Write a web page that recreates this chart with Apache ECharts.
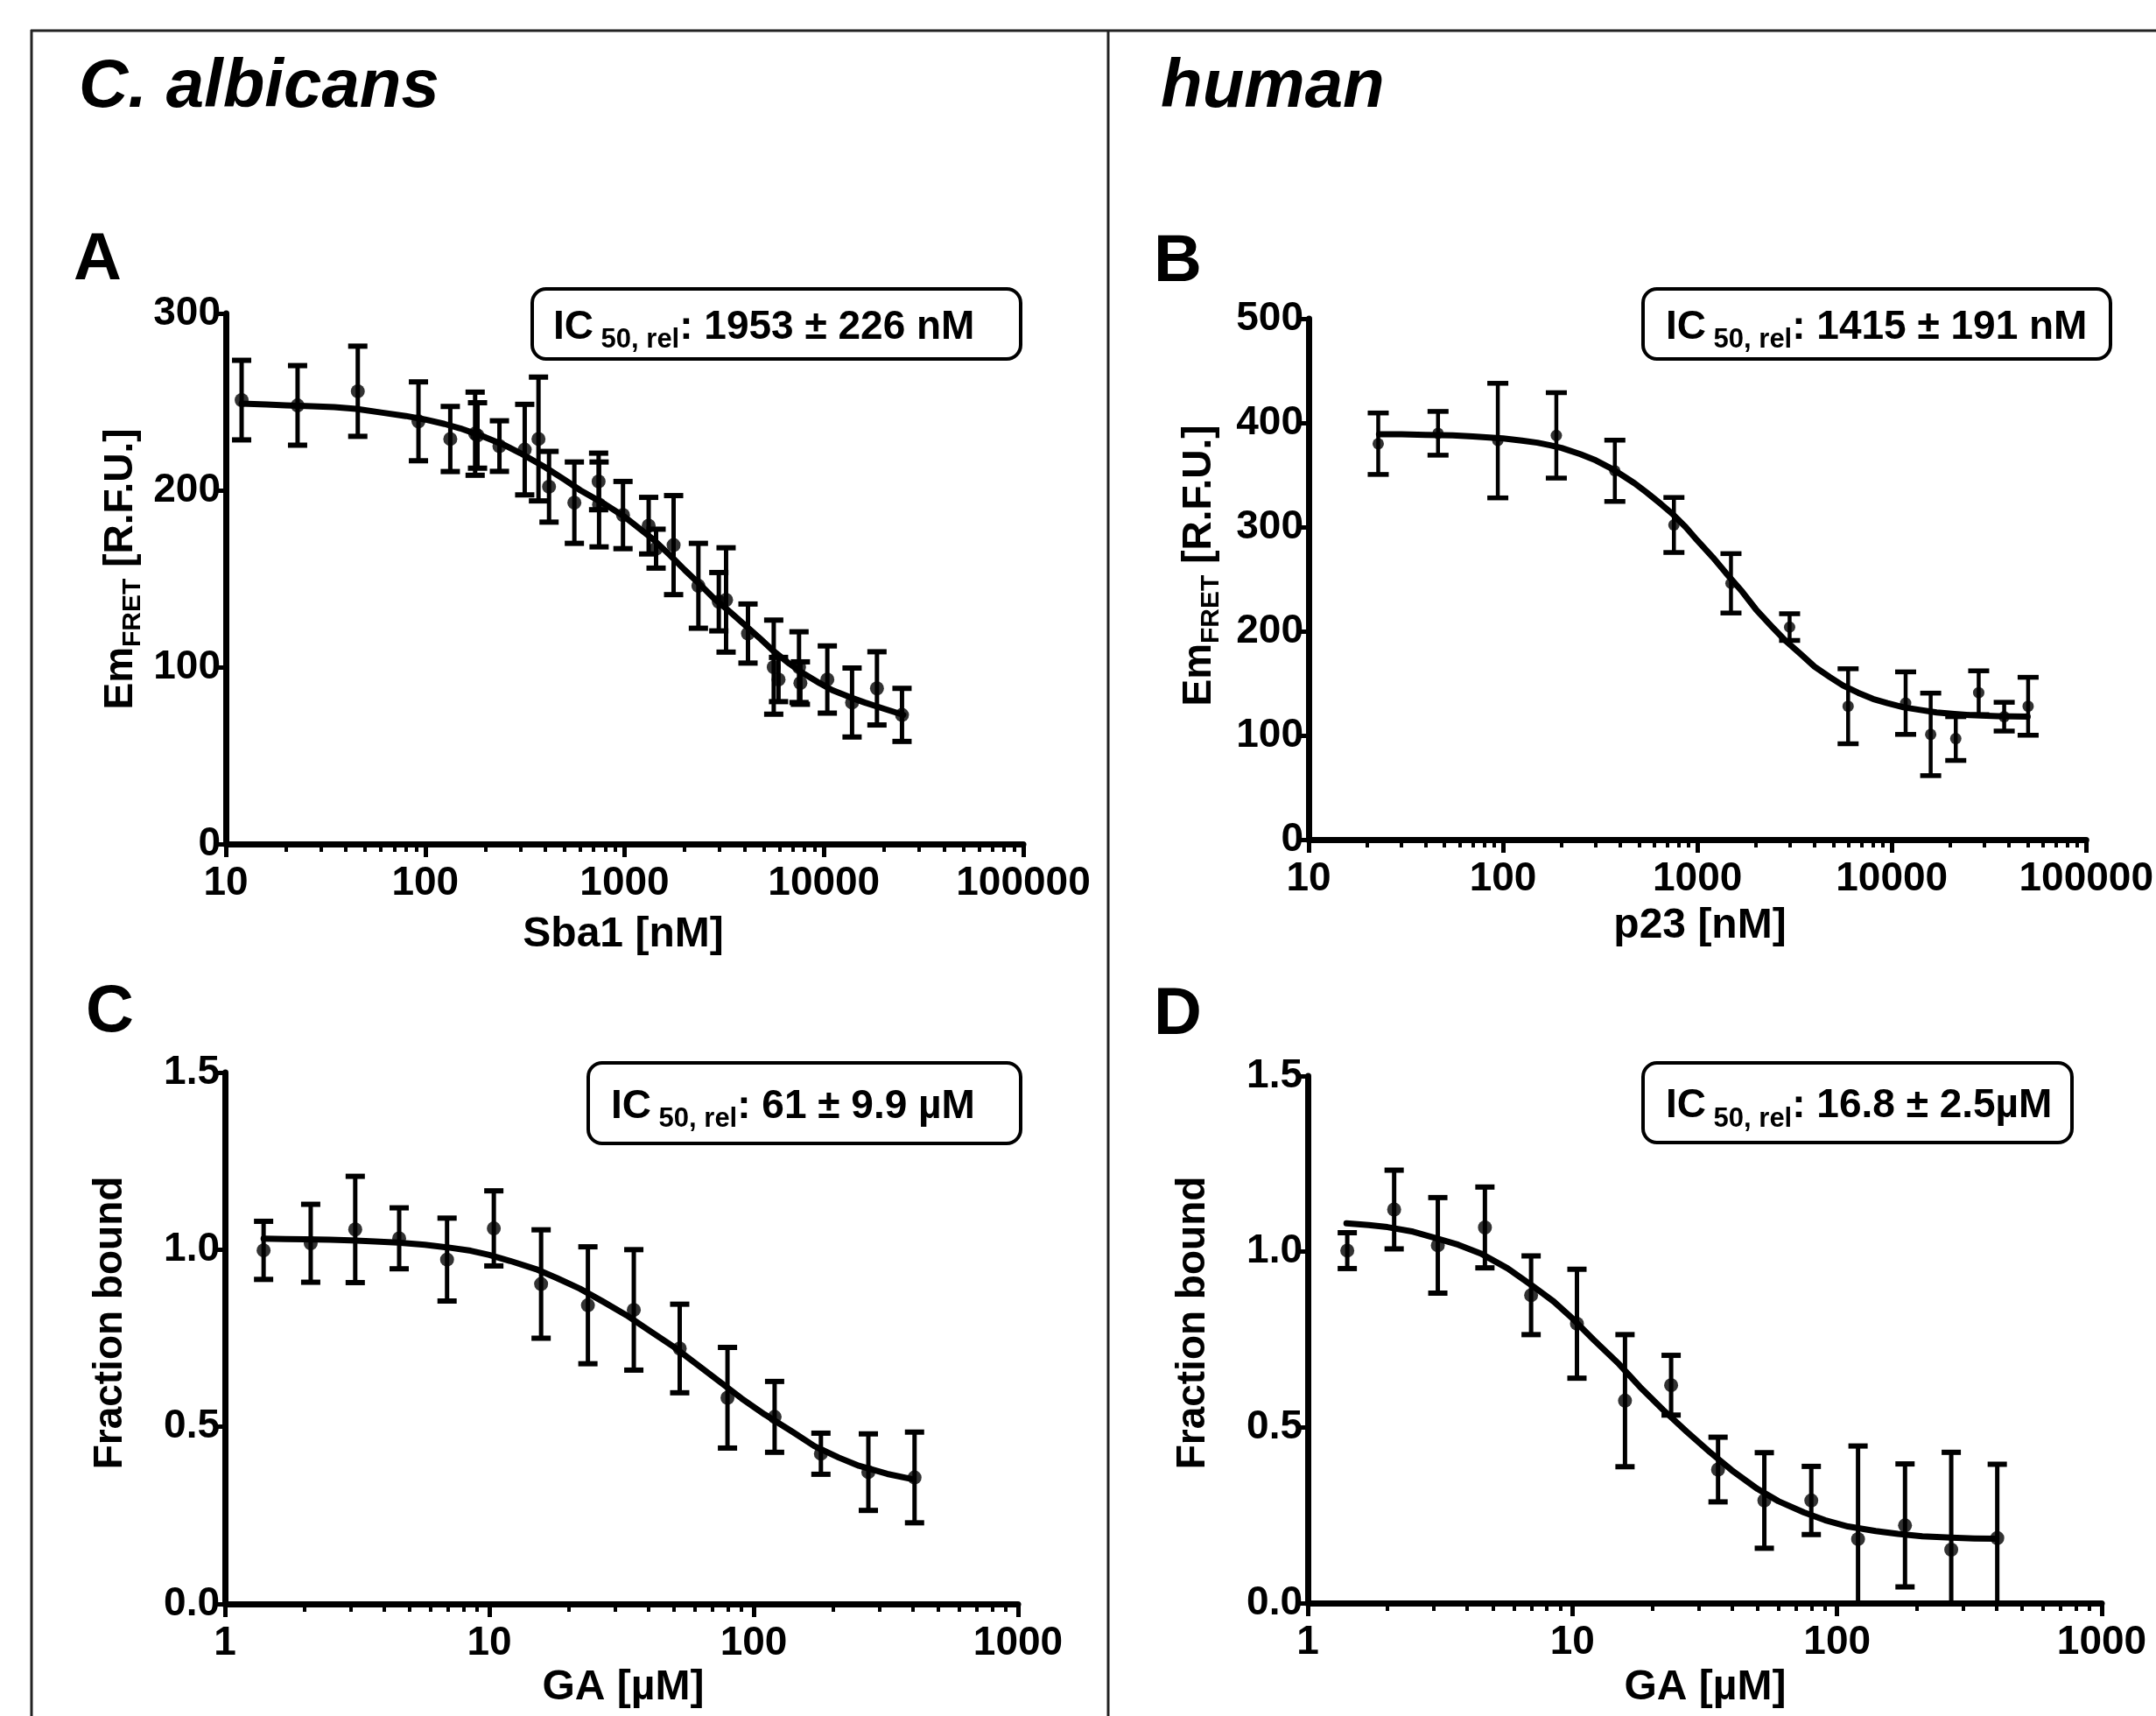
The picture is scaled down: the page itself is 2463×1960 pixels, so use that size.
<!DOCTYPE html>
<html>
<head>
<meta charset="utf-8">
<script src="https://cdn.jsdelivr.net/npm/echarts@6/dist/echarts.min.js"></script>
<style>
html,body{margin:0;padding:0;background:#fff;}
#chart{width:2463px;height:1960px;}
</style>
</head>
<body>
<div id="chart"></div>
<script>
// ---------------- DATA ----------------
// Panel A: C. albicans, Sba1 titration
const A_conc = [12.0, 22.9, 45.9, 92.5, 133.6, 178, 183, 235.7, 315.6, 370, 418, 560, 741, 745, 982, 1321, 1439, 1762, 2346, 2970, 3230, 4160, 5600, 5920, 7500, 7620, 10400, 13840, 18450, 24640];
const A_em   = [251, 248, 256, 239, 229, 232, 231, 225, 223, 229, 202, 193, 205, 192, 186, 180, 167, 169, 146, 137, 138, 119, 100, 93, 100, 91, 93, 80, 88, 73];
const A_sd   = [22.5, 22.5, 25.5, 22.3, 18.4, 23.5, 18.5, 14.3, 25.6, 35, 20, 23, 16, 24, 19, 16, 11, 28, 24, 16.5, 29.5, 16.7, 26.6, 12.5, 20, 12, 19, 19.5, 20.7, 15];
const A_fitX = [12, 16, 20, 27, 35, 45, 60, 80, 100, 125, 150, 200, 250, 300, 400, 500, 600, 800, 1000, 1200, 1400, 1700, 2000, 2400, 2800, 3400, 4000, 4800, 5600, 6700, 8000, 9500, 11000, 13500, 16000, 20000, 25000];
const A_fitY = [249, 248.5, 248, 247.5, 247, 246, 244, 242, 240, 237.5, 235, 230, 225.5, 221, 213, 206, 200, 192, 185, 178, 172, 163, 155, 146.5, 139, 131, 124, 116, 109, 102, 96, 91, 87, 83, 80, 76.5, 73];

// Panel B: human, p23 titration
const B_conc = [22.8, 46.3, 94, 188, 376, 757, 1488, 2980, 5960, 11780, 15850, 21330, 27990, 37860, 50270];
const B_em   = [380, 390, 383, 388, 354, 302, 246, 204, 128, 131, 101, 97, 141, 118, 128];
const B_sd   = [29.5, 21, 55, 41, 29.4, 26.4, 28.5, 12.8, 36, 30, 39.6, 21, 21, 13.8, 27.8];
const B_fitX = [23, 30, 40, 55, 70, 85, 100, 125, 150, 175, 200, 250, 300, 350, 400, 475, 550, 650, 750, 870, 1000, 1200, 1400, 1700, 2000, 2400, 2800, 3400, 4000, 4800, 5600, 6700, 8000, 9500, 11500, 14000, 17000, 21000, 25000, 35000, 50000];
const B_fitY = [389, 389, 388.5, 388, 387, 386, 385, 383, 381, 378.5, 376, 370, 364, 357.5, 351, 342, 333, 322, 312, 300, 287, 271, 256, 238, 221, 205, 192, 178, 166, 156, 148, 141, 135, 131, 127, 124.5, 122, 120.5, 119.5, 118.5, 118];

// Panel C: C. albicans, GA titration
const C_conc = [1.40, 2.11, 3.11, 4.56, 6.92, 10.4, 15.7, 23.6, 35.2, 52.5, 79.6, 120, 179.6, 271.5, 406];
const C_frac = [0.998, 1.018, 1.057, 1.032, 0.972, 1.060, 0.903, 0.843, 0.830, 0.721, 0.582, 0.528, 0.424, 0.372, 0.357];
const C_sd   = [0.082, 0.11, 0.15, 0.086, 0.117, 0.106, 0.153, 0.165, 0.17, 0.125, 0.142, 0.10, 0.058, 0.108, 0.128];
const C_fitX = [1.4, 1.7, 2, 2.5, 3, 3.7, 4.5, 5.7, 7, 8.5, 10, 12, 15, 18, 22, 27, 33, 40, 50, 60, 75, 90, 110, 140, 170, 210, 250, 320, 400];
const C_fitY = [1.031, 1.030, 1.029, 1.028, 1.026, 1.023, 1.02, 1.014, 1.006, 0.997, 0.985, 0.968, 0.945, 0.92, 0.89, 0.853, 0.815, 0.773, 0.725, 0.68, 0.625, 0.58, 0.535, 0.486, 0.445, 0.413, 0.39, 0.367, 0.352];

// Panel D: human, GA titration
const D_conc = [1.41, 2.12, 3.10, 4.67, 6.98, 10.4, 15.8, 23.6, 35.5, 53.1, 79.9, 120, 180.6, 270, 403];
const D_frac = [1.003, 1.120, 1.018, 1.069, 0.876, 0.795, 0.576, 0.620, 0.380, 0.292, 0.292, 0.182, 0.221, 0.152, 0.185];
const D_sd   = [0.051, 0.112, 0.136, 0.115, 0.112, 0.155, 0.188, 0.085, 0.092, 0.136, 0.097, 0.265, 0.175, 0.277, 0.21];
const D_fitX = [1.4, 1.7, 2, 2.5, 3, 3.7, 4.5, 5.7, 7, 8.5, 10, 12, 15, 18, 22, 27, 33, 40, 50, 60, 75, 90, 110, 140, 170, 210, 270, 330, 400];
const D_fitY = [1.081, 1.076, 1.07, 1.057, 1.04, 1.02, 0.995, 0.952, 0.905, 0.858, 0.81, 0.75, 0.68, 0.615, 0.55, 0.488, 0.43, 0.378, 0.325, 0.29, 0.258, 0.236, 0.218, 0.205, 0.197, 0.19, 0.186, 0.184, 0.183];

// Tick labels
const nM_ticks = [10, 100, 1000, 10000, 100000];
const uM_ticks = [1, 10, 100, 1000];
const rfuA_ticks = [0, 100, 200, 300];
const rfuB_ticks = [0, 100, 200, 300, 400, 500];
const frac_ticks = [0.0, 0.5, 1.0, 1.5];

// Texts
const titleLeft = 'C. albicans';
const titleRight = 'human';
const panelLetters = ['A', 'B', 'C', 'D'];
const ic50Values = ['1953 ± 226 nM', '1415 ± 191 nM', '61 ± 9.9 µM', '16.8 ± 2.5µM'];

// ---------------- CHART ----------------
const FF = '"Liberation Sans", Arial, Helvetica, sans-serif';
const chart = echarts.init(document.getElementById('chart'), null, {renderer: 'canvas'});

function minorTicks(lo, hi) {
  const out = [];
  for (let d = lo; d < hi; d *= 10) for (let k = 2; k <= 9; k++) out.push(d * k);
  return out;
}

const grids = [
  {left: 258, top: 358, width: 911, height: 606},
  {left: 1495, top: 364, width: 895, height: 595},
  {left: 257, top: 1225, width: 906, height: 607},
  {left: 1494, top: 1229, width: 907, height: 602}
];

const AXW = 7;
function xAxesFor(gi, ticks) {
  const min = ticks[0], max = ticks[ticks.length - 1];
  return [
    {type: 'log', logBase: 10, gridIndex: gi, min: min, max: max, position: 'bottom',
      axisLine: {show: true, onZero: false, lineStyle: {color: '#000', width: AXW}},
      axisTick: {show: true, inside: false, length: 15, lineStyle: {color: '#000', width: 5}, customValues: ticks},
      axisLabel: {show: true, customValues: ticks, formatter: v => String(Math.round(v)), margin: 22,
        color: '#000', fontSize: 46, fontWeight: 'bold', fontFamily: FF},
      splitLine: {show: false}, minorTick: {show: false}, minorSplitLine: {show: false}},
    {type: 'log', logBase: 10, gridIndex: gi, min: min, max: max, position: 'bottom',
      axisLine: {show: false},
      axisTick: {show: true, inside: false, length: 9, lineStyle: {color: '#000', width: 4}, customValues: minorTicks(min, max)},
      axisLabel: {show: false}, splitLine: {show: false}}
  ];
}

function yAxisFor(gi, ticks, dec) {
  return {type: 'value', gridIndex: gi, min: ticks[0], max: ticks[ticks.length - 1], interval: ticks[1] - ticks[0],
    axisLine: {show: true, onZero: false, lineStyle: {color: '#000', width: AXW}},
    axisTick: {show: true, inside: false, length: 11, lineStyle: {color: '#000', width: 5}},
    axisLabel: {show: true, margin: 6, color: '#000', fontSize: 46, fontWeight: 'bold', fontFamily: FF,
      formatter: v => dec ? v.toFixed(1) : String(v)},
    splitLine: {show: false}};
}

function errRender(capHalf, lw) {
  return function (params, api) {
    const x = api.value(0), y = api.value(1), e = api.value(2);
    const p1 = api.coord([x, y + e]);
    const p2 = api.coord([x, y - e]);
    const st = {stroke: '#000', lineWidth: lw};
    return {type: 'group', children: [
      {type: 'line', shape: {x1: p1[0], y1: p1[1], x2: p2[0], y2: p2[1]}, style: st},
      {type: 'line', shape: {x1: p1[0] - capHalf, y1: p1[1], x2: p1[0] + capHalf, y2: p1[1]}, style: {stroke: '#000', lineWidth: lw + 1}},
      {type: 'line', shape: {x1: p2[0] - capHalf, y1: p2[1], x2: p2[0] + capHalf, y2: p2[1]}, style: {stroke: '#000', lineWidth: lw + 1}}
    ]};
  };
}

function seriesFor(gi, xs, ys, sd, fx, fy, dot, cap, lw) {
  const xi = gi * 2;
  return [
    {type: 'custom', name: 'sd' + gi, xAxisIndex: xi, yAxisIndex: gi, clip: true,
      renderItem: errRender(cap, lw), data: xs.map((x, i) => [x, ys[i], sd[i]]), z: 3, silent: true},
    {type: 'line', name: 'fit' + gi, xAxisIndex: xi, yAxisIndex: gi, data: fx.map((x, i) => [x, fy[i]]),
      smooth: false, showSymbol: false, symbol: 'none',
      lineStyle: {color: '#000', width: 7, join: 'round', cap: 'round'}, z: 4, silent: true},
    {type: 'scatter', name: 'pts' + gi, xAxisIndex: xi, yAxisIndex: gi, data: xs.map((x, i) => [x, ys[i]]),
      symbol: 'circle', symbolSize: dot, itemStyle: {color: '#000'}, z: 5, silent: true}
  ];
}

// graphic texts
function txt(x, y, text, size, opts) {
  return Object.assign({type: 'text', x: x, y: y, z: 20, silent: true,
    style: {text: text, fontSize: size, fontWeight: 'bold', fontFamily: FF, fill: '#000',
      align: 'left', verticalAlign: 'middle'}}, opts || {});
}

function icBox(x, y, w, h, val, tx) {
  return [
    {type: 'rect', z: 15, silent: true, shape: {x: x, y: y, width: w, height: h, r: 16},
      style: {fill: '#fff', stroke: '#000', lineWidth: 4}},
    {type: 'text', z: 20, silent: true, x: tx, y: y + h / 2 + 4,
      style: {text: '{m|IC}{s| 50, rel}{m|: ' + val + '}', fontFamily: FF, fontWeight: 'bold', fill: '#000',
        align: 'left', verticalAlign: 'middle',
        rich: {
          m: {fontSize: 46, fontWeight: 'bold', fontFamily: FF, fill: '#000', lineHeight: 60, verticalAlign: 'middle'},
          s: {fontSize: 31, fontWeight: 'bold', fontFamily: FF, fill: '#000', lineHeight: 31, verticalAlign: 'bottom'}
        }}}
  ];
}

function yName(cx, cy, rich) {
  return {type: 'text', z: 20, silent: true, x: cx, y: cy, rotation: Math.PI / 2,
    style: {text: rich, fontFamily: FF, fontWeight: 'bold', fill: '#000', align: 'center', verticalAlign: 'middle',
      rich: {
        m: {fontSize: 46, fontWeight: 'bold', fontFamily: FF, fill: '#000', lineHeight: 58, verticalAlign: 'middle'},
        s: {fontSize: 30, fontWeight: 'bold', fontFamily: FF, fill: '#000', lineHeight: 29, verticalAlign: 'bottom'}
      }}};
}

function xName(cx, cy, text) {
  return txt(cx, cy, text, 48, {style: {text: text, fontSize: 48, fontWeight: 'bold', fontFamily: FF, fill: '#000',
    align: 'center', verticalAlign: 'middle'}});
}

const frame = {stroke: '#222', lineWidth: 3};
const graphics = [
  {type: 'line', silent: true, z: 1, shape: {x1: 35, y1: 35, x2: 2463, y2: 35}, style: frame},
  {type: 'line', silent: true, z: 1, shape: {x1: 36, y1: 34, x2: 36, y2: 1960}, style: frame},
  {type: 'line', silent: true, z: 1, shape: {x1: 1266, y1: 34, x2: 1266, y2: 1960}, style: frame},
  txt(90, 100, titleLeft, 78, {style: {text: titleLeft, fontSize: 78, fontWeight: 'bold', fontStyle: 'italic', fontFamily: FF, fill: '#000', align: 'left', verticalAlign: 'middle'}}),
  txt(1326, 100, titleRight, 78, {style: {text: titleRight, fontSize: 78, fontWeight: 'bold', fontStyle: 'italic', fontFamily: FF, fill: '#000', align: 'left', verticalAlign: 'middle'}}),
  txt(84, 298, panelLetters[0], 76),
  txt(1318, 300, panelLetters[1], 76),
  txt(98, 1157, panelLetters[2], 76),
  txt(1318, 1160, panelLetters[3], 76),
  ...icBox(608, 330, 558, 80, ic50Values[0], 632),
  ...icBox(1877, 330, 534, 80, ic50Values[1], 1903),
  ...icBox(672, 1214, 494, 92, ic50Values[2], 698),
  ...icBox(1877, 1214, 490, 91, ic50Values[3], 1903),
  yName(138, 650, '{m|Em}{s|FRET}{m| [R.F.U.]}'),
  yName(1370, 646, '{m|Em}{s|FRET}{m| [R.F.U.]}'),
  yName(126, 1511, '{m|Fraction bound}'),
  yName(1363, 1511, '{m|Fraction bound}'),
  xName(712, 1068, 'Sba1 [nM]'),
  xName(1942, 1058, 'p23 [nM]'),
  xName(712, 1928, 'GA [µM]'),
  xName(1948, 1928, 'GA [µM]')
];

const option = {
  backgroundColor: '#fff',
  animation: false,
  grid: grids,
  xAxis: [...xAxesFor(0, nM_ticks), ...xAxesFor(1, nM_ticks), ...xAxesFor(2, uM_ticks), ...xAxesFor(3, uM_ticks)],
  yAxis: [yAxisFor(0, rfuA_ticks, false), yAxisFor(1, rfuB_ticks, false), yAxisFor(2, frac_ticks, true), yAxisFor(3, frac_ticks, true)],
  series: [
    ...seriesFor(0, A_conc, A_em, A_sd, A_fitX, A_fitY, 16, 11, 5),
    ...seriesFor(1, B_conc, B_em, B_sd, B_fitX, B_fitY, 13, 12, 4.5),
    ...seriesFor(2, C_conc, C_frac, C_sd, C_fitX, C_fitY, 16, 11, 5),
    ...seriesFor(3, D_conc, D_frac, D_sd, D_fitX, D_fitY, 16, 11, 5)
  ],
  graphic: graphics
};
chart.setOption(option);
</script>
</body>
</html>
